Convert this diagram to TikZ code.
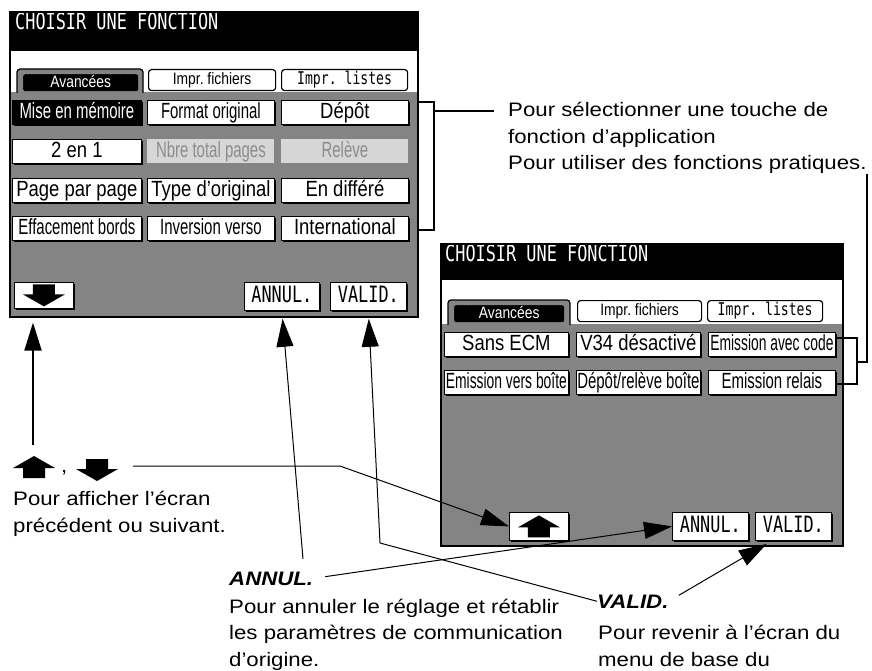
\documentclass[tikz,border=0pt]{standalone}
\usepackage{fontspec}
\usetikzlibrary{arrows.meta,positioning,calc,shadows}
\newfontfamily\notefont{Liberation Sans}[FakeStretch=1.14]
\newfontfamily\lcdfont{Liberation Sans}[FakeStretch=0.68]
\newfontfamily\lcdslim{Liberation Sans}[FakeStretch=0.63]
\newfontfamily\lcdwide{Liberation Sans}[FakeStretch=0.84]
\newfontfamily\lcdmono{DejaVu Sans Mono}[FakeStretch=0.75]
\definecolor{dots}{HTML}{848484}
\definecolor{faded}{HTML}{D6D6D6}
\definecolor{fadedtext}{HTML}{8C8C8C}

\tikzset{
  screen/.style={draw, line width=1.6bp, anchor=north west, inner sep=0pt},
  keybase/.style={draw, line width=0.8bp, fill=white, inner sep=0pt, anchor=north west,
    minimum height=24bp, text height=16bp, text depth=4bp, font=\fontsize{22bp}{22bp}\lcdfont},
  key/.style={keybase, drop shadow={fill=black, opacity=1, shadow xshift=1.8bp, shadow yshift=-1.8bp}},
  widekey/.style={key, font=\fontsize{22bp}{22bp}\lcdwide},
  slimkey/.style={key, font=\fontsize{22bp}{22bp}\lcdslim},
  monokey/.style={key, minimum height=28bp, font=\fontsize{22.5bp}{22.5bp}\lcdmono},
  chosen/.style={fill=black, text=white},
  greyed/.style={keybase, draw=none, fill=faded, text=fadedtext},
  tabkey/.style={draw, line width=1.2bp, fill=white, rounded corners=3bp, anchor=north west, inner sep=0pt,
    minimum height=21bp, text height=12bp, text depth=3bp, font=\fontsize{16.5bp}{16.5bp}\lcdwide},
  tabfront/.style={draw=dots, densely dotted, fill=black, text=white, rounded corners=2bp, anchor=north west,
    inner sep=0pt, minimum height=17bp, text height=12bp, text depth=2bp, font=\fontsize{16.5bp}{16.5bp}\lcdwide},
  monotab/.style={font=\fontsize{17.5bp}{17.5bp}\lcdmono},
  titletext/.style={anchor=north west, inner sep=0pt, text=white, font=\fontsize{22.5bp}{22.5bp}\lcdmono},
  notetext/.style={anchor=base west, inner sep=0pt, align=left, font=\fontsize{19.5bp}{26.5bp}\notefont},
  headtext/.style={notetext, font=\fontsize{19.5bp}{26.5bp}\notefont\bfseries\itshape},
  pointer/.style={-{Triangle[length=28bp,width=17bp]}, line width=1bp},
  tie/.style={line width=1.8bp},
  upglyph/.pic={\fill (0,-11) -- (21,1) -- (11,1) -- (11,11) -- (-11,11) -- (-11,1) -- (-21,1) -- cycle;},
  downglyph/.pic={\fill (0,11) -- (21,-1) -- (11,-1) -- (11,-11) -- (-11,-11) -- (-11,-1) -- (-21,-1) -- cycle;},
}

\begin{document}
\begin{tikzpicture}[x=1bp,y=-1bp]
  \useasboundingbox (0,0) rectangle (872,671);

  % left screen
  \fill[dots] (9,11) rectangle (417,316);
  \fill (9,11) rectangle (417,51);
  \fill[white] (9,51) rectangle (417,92);
  \node[titletext] (ltitle) at (15,13) {CHOISIR UNE FONCTION};
  \draw[fill=dots, line width=1.2bp, rounded corners=3bp] (17,93) -- (17,69) -- (143,69) -- (143,93);
  \node[tabfront, minimum width=115bp] (ladv) at (23,74) {Avancées};
  \node[tabkey, minimum width=127bp] (lfiles) at (148,69) {Impr.\ fichiers};
  \node[tabkey, monotab, minimum width=126bp] (llists) at (281,69) {Impr.\ listes};
  \node[key, chosen, minimum width=129bp] (lmem) at (12,100) {Mise en mémoire};
  \node[key, minimum width=127bp] (lformat) at (147,100) {Format original};
  \node[widekey, minimum width=127bp] (ldepot) at (281,100) {Dépôt};
  \node[widekey, minimum width=129bp] (ltwo) at (12,139) {2 en 1};
  \node[greyed, minimum width=127bp] (lpages) at (147,139) {Nbre total pages};
  \node[greyed, minimum width=127bp] (lpoll) at (281,139) {Relève};
  \node[widekey, minimum width=129bp] (lpage) at (12,178) {Page par page};
  \node[widekey, minimum width=127bp] (ltype) at (147,178) {Type d’original};
  \node[widekey, minimum width=127bp] (ldefer) at (281,178) {En différé};
  \node[key, minimum width=129bp] (lerase) at (12,216) {Effacement bords};
  \node[key, minimum width=127bp] (lverso) at (147,216) {Inversion verso};
  \node[widekey, minimum width=127bp] (lintl) at (281,216) {International};
  \node[key, minimum width=59bp, minimum height=26bp] (downkey) at (14,282) {};
  \pic at (downkey.center) {downglyph};
  \node[monokey, minimum width=75bp] (lannul) at (244,282) {ANNUL.};
  \node[monokey, minimum width=76bp] (lvalid) at (330,282) {VALID.};
  \node[screen, minimum width=408bp, minimum height=305bp] (lscreen) at (9,11) {};

  % right screen
  \fill[dots] (440,243) rectangle (842,545);
  \fill (440,243) rectangle (842,280);
  \fill[white] (440,280) rectangle (842,324);
  \node[titletext] (rtitle) at (445,245) {CHOISIR UNE FONCTION};
  \draw[fill=dots, line width=1.2bp, rounded corners=3bp] (448,325) -- (448,300) -- (570,300) -- (570,325);
  \node[tabfront, minimum width=110bp] (radv) at (454,305) {Avancées};
  \node[tabkey, minimum width=124bp] (rfiles) at (577,300) {Impr.\ fichiers};
  \node[tabkey, monotab, minimum width=115bp] (rlists) at (707,300) {Impr.\ listes};
  \node[widekey, minimum width=124bp] (rnoecm) at (444,332) {Sans ECM};
  \node[widekey, minimum width=124bp] (rnov34) at (576,332) {V34 désactivé};
  \node[slimkey, minimum width=127bp] (rcode) at (708,332) {Emission avec code};
  \node[slimkey, minimum width=124bp] (rbox) at (444,370) {Emission vers boîte};
  \node[key, minimum width=124bp] (rboxpoll) at (576,370) {Dépôt/relève boîte};
  \node[key, minimum width=127bp] (rrelay) at (708,370) {Emission relais};
  \node[key, minimum width=59bp, minimum height=28bp] (upkey) at (509,512) {};
  \pic at (upkey.center) {upglyph};
  \node[monokey, minimum width=76bp] (rannul) at (672,512) {ANNUL.};
  \node[monokey, minimum width=76bp] (rvalid) at (755,512) {VALID.};
  \node[screen, minimum width=402bp, minimum height=302bp] (rscreen) at (440,243) {};

  % notes (base = last line)
  \node[notetext] (seltext) at (508,170) {Pour sélectionner une touche de\\fonction d’application\\Pour utiliser des fonctions pratiques.};
  \pic at (34,467) {upglyph};
  \node[notetext] (comma) at (61,472) {,};
  \pic at (97,470) {downglyph};
  \node[notetext] (navtext) at (13,532) {Pour afficher l’écran\\précédent ou suivant.};
  \node[headtext] (annullbl) at (229,585) {ANNUL.};
  \node[notetext] (annultext) at (229,666) {Pour annuler le réglage et rétablir\\les paramètres de communication\\d’origine.};
  \node[headtext] (validlbl) at (597,608) {VALID.};
  \node[notetext] (validtext) at (598,666) {Pour revenir à l’écran du\\menu de base du};

  % brackets
  \coordinate (lbrk) at (434,111);
  \draw[tie] (417,102) -| (434,230) -- (417,230);
  \draw[tie, shorten >=14bp] (lbrk) -- (seltext.west |- lbrk);
  \draw[tie] (837,338) -| (857,384) -- (837,384);
  \draw[tie] (857,362) -| (seltext.south east);

  % pointers
  \coordinate (navend) at (133,466);
  \coordinate (navbend) at (340,466);
  \coordinate (navup) at (33,445);
  \coordinate (annulfoot) at (303,559);
  \coordinate (validbend) at (380,543);
  \draw[pointer] (navend) -- (navbend) -- (upkey.west);
  \draw[pointer, line width=2bp, shorten >=5bp] (navup) -- (navup |- lscreen.south);
  \draw[pointer, shorten >=8bp] (annulfoot) -- (lannul.south);
  \draw[pointer, shorten >=8bp] (validlbl.west) -- (validbend) -- (lvalid.south);
  \draw[pointer, shorten <=12bp] (annullbl.east) -- (rannul.west);
  \draw[pointer, shorten <=12bp, shorten >=6bp] (validlbl.east) -- ($(rvalid.south west)!0.22!(rvalid.south east)$);
\end{tikzpicture}
\end{document}
